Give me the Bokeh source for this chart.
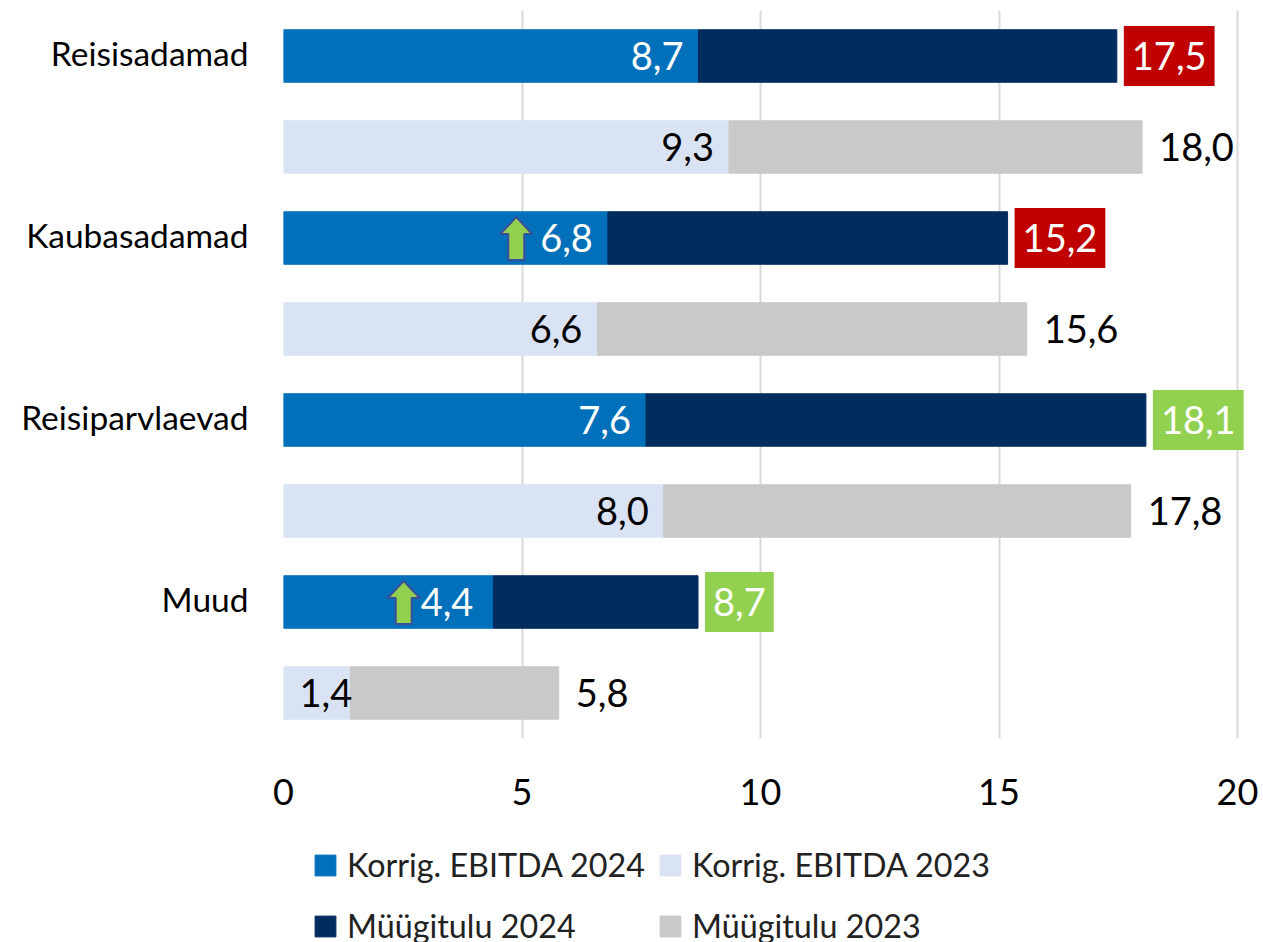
from bokeh.embed import file_html
from bokeh.resources import INLINE
from bokeh.layouts import column
from bokeh.plotting import figure
from bokeh.models import Range1d, FixedTicker, Legend, LegendItem, ColumnDataSource
from bokeh.core.properties import value

categories = ["Reisisadamad", "Kaubasadamad", "Reisiparvlaevad", "Muud"]
ebitda_2024 = [8.7, 6.8, 7.6, 4.4]
ebitda_2023 = [9.34, 6.58, 7.97, 1.4]
revenue_2024 = [17.47, 15.18, 18.08, 8.69]
revenue_2023 = [18.0, 15.58, 17.76, 5.77]
revenue_2024_colors = ["#C00000", "#C00000", "#92D050", "#92D050"]
arrow_categories = [1, 3]      # categories carrying an up arrow
arrow_values = [4.88, 2.52]    # where the arrow sits on the value axis
legend_labels = ["Korrig. EBITDA 2024", "Müügitulu 2024", "Korrig. EBITDA 2023", "Müügitulu 2023"]

COL_E24, COL_R24, COL_E23, COL_R23 = "#0070BA", "#002D5E", "#DAE3F3", "#C9C9C9"
FONT = "Lato"
PX_X = (1237 - 283) / 20
PX_Y = 91

rows_24 = [i * 2 for i in range(len(categories))]
rows_23 = [i * 2 + 1 for i in range(len(categories))]
fmt = lambda v: f"{v:.1f}".replace(".", ",")

p = figure(frame_width=980, frame_height=728, output_backend="svg", toolbar_location=None,
           x_range=Range1d(0, (1263 - 283) / PX_X), y_range=Range1d(7.5, -0.5),
           min_border_left=283, min_border_top=10, min_border_right=0, min_border_bottom=104)
p.outline_line_color = None
p.background_fill_color = "white"

p.ygrid.visible = False
p.xgrid.ticker = FixedTicker(ticks=[0, 5, 10, 15, 20])
p.xgrid.grid_line_color = "#D9D9D9"
p.xgrid.grid_line_width = 2

label_ticks = [r - 0.03 for r in rows_24]
p.xaxis.ticker = FixedTicker(ticks=[0, 5, 10, 15, 20])
p.yaxis.ticker = FixedTicker(ticks=label_ticks)
p.yaxis.major_label_overrides = {r: c for r, c in zip(label_ticks, categories)}
for ax in (p.xaxis, p.yaxis):
    ax.axis_line_color = None
    ax.major_tick_line_color = None
    ax.major_tick_out = 0
    ax.minor_tick_line_color = None
    ax.minor_tick_out = 0
    ax.major_label_text_font = FONT
    ax.major_label_text_color = "black"
p.xaxis.major_label_text_font_size = "36px"
p.xaxis.major_label_standoff = 40
p.yaxis.major_label_text_font_size = "33.5px"
p.yaxis.major_label_standoff = 35

H = 52.5 / PX_Y
p.hbar(y=rows_24, left=0, right=ebitda_2024, height=H, color=COL_E24)
p.hbar(y=rows_24, left=ebitda_2024, right=revenue_2024, height=H, color=COL_R24)
p.hbar(y=rows_23, left=0, right=ebitda_2023, height=H, color=COL_E23)
p.hbar(y=rows_23, left=ebitda_2023, right=revenue_2023, height=H, color=COL_R23)

common = dict(text_font=value(FONT), text_font_size=value("38px"), text_baseline="middle")
src_e24 = ColumnDataSource(dict(x=ebitda_2024, y=rows_24, t=[fmt(v) for v in ebitda_2024],
                                o=[-15, -15, -15, -20]))
src_e23 = ColumnDataSource(dict(x=ebitda_2023, y=rows_23, t=[fmt(v) for v in ebitda_2023],
                                o=[-15, -15, -15, 2]))
p.text(x="x", y="y", text="t", source=src_e24, text_color="white", text_align="right", x_offset="o", **common)
p.text(x="x", y="y", text="t", source=src_e23, text_color="black", text_align="right", x_offset="o", **common)
p.text(x=revenue_2023, y=rows_23, text=[fmt(v) for v in revenue_2023], text_color="black",
       text_align="left", x_offset=17, **common)
src = ColumnDataSource(dict(x=revenue_2024, y=rows_24, t=[fmt(v) for v in revenue_2024],
                            c=revenue_2024_colors))
p.text(x="x", y="y", text="t", source=src, text_color="white", text_align="left",
       x_offset=7, background_fill_color="c", padding=[8, 16], **common)

# up arrows, shaped in pixels around their anchor
shape_x = [0, 16, 8, 8, -8, -8, -16]
shape_y = [-21, -4, -4, 22, 22, -4, -4]
xs = [[a + dx / PX_X for dx in shape_x] for a in arrow_values]
ys = [[c * 2 + dy / PX_Y for dy in shape_y] for c in arrow_categories]
p.patches(xs, ys, fill_color="#92D050", line_color="#3A4E9A", line_width=2)

# legend strip under the chart; its swatch glyphs lie outside the strip's visible range
leg = figure(width=1263, height=100, output_backend="svg", toolbar_location=None,
             x_range=Range1d(0, 1), y_range=Range1d(0, 1), x_axis_location=None, y_axis_location=None,
             min_border_left=0, min_border_right=0, min_border_top=0, min_border_bottom=0)
leg.outline_line_color = None
leg.grid.visible = False
items = []
for label, col in zip(legend_labels, [COL_E24, COL_R24, COL_E23, COL_R23]):
    r = leg.hbar(y=[5], left=[5], right=[6], height=1, color=col)
    items.append(LegendItem(label=label, renderers=[r]))
legend = Legend(items=items, ncols=2, location=(29, -8), margin=0, padding=0,
                border_line_color=None, background_fill_alpha=0,
                glyph_width=26, glyph_height=26, label_standoff=9, spacing=12,
                label_height=49, label_text_font=FONT, label_text_font_size="32.3px",
                label_text_color="#222222")
leg.add_layout(legend, "center")

open("out.html", "w").write(file_html(column(p, leg, spacing=0), INLINE))
